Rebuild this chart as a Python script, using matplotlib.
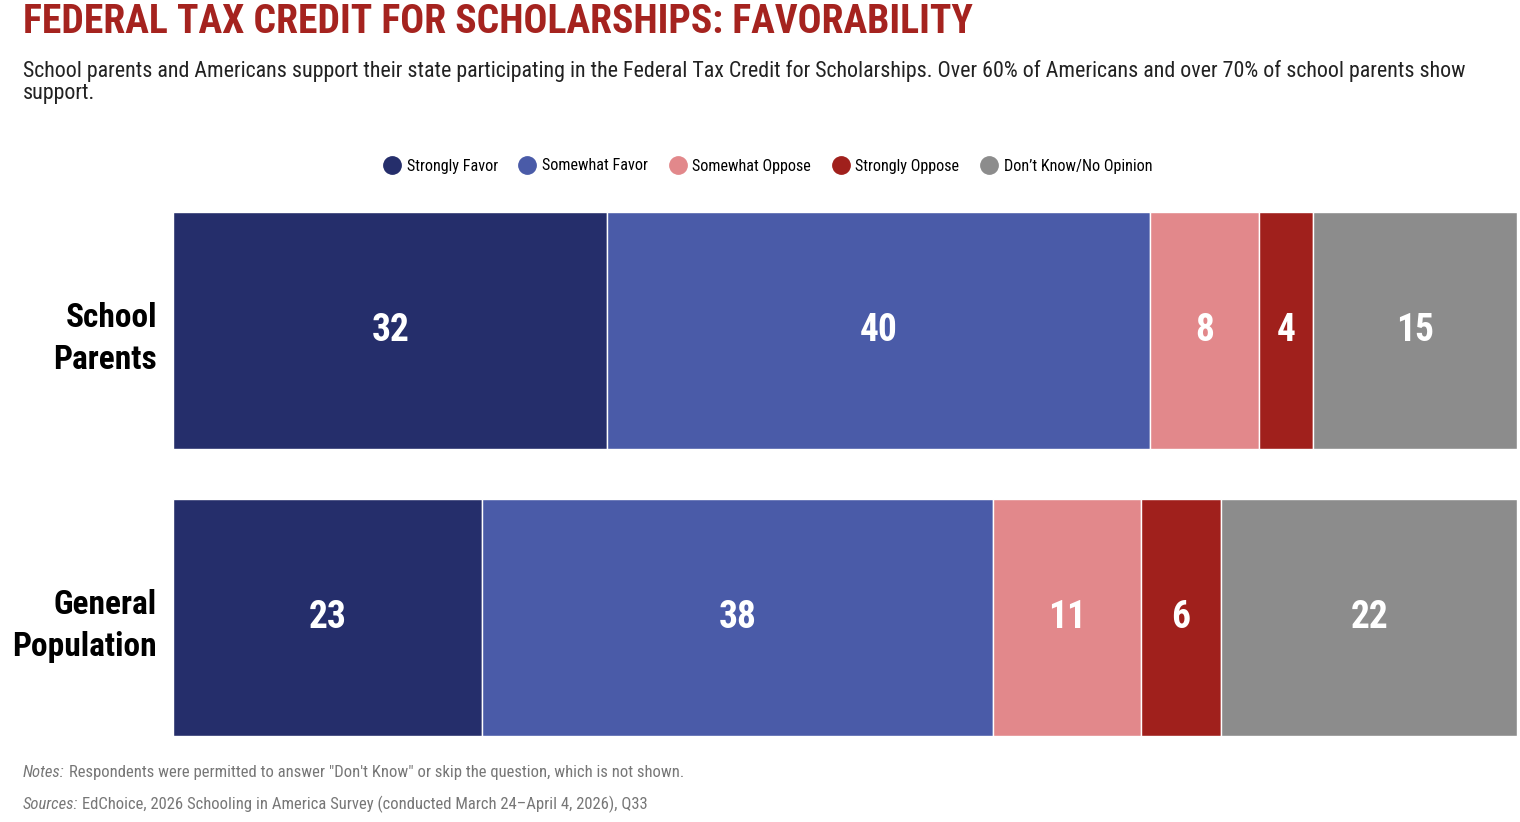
import numpy as np
import matplotlib
matplotlib.use("Agg")
import matplotlib.pyplot as plt
from matplotlib.lines import Line2D

plt.rcParams["font.family"] = ["Roboto Condensed", "IBM Plex Sans Condensed", "DejaVu Sans"]

groups = ["School\nParents", "General\nPopulation"]
categories = ["Strongly Favor", "Somewhat Favor", "Somewhat Oppose",
              "Strongly Oppose", "Don\u2019t Know/No Opinion"]
parents = [32, 40, 8, 4, 15]
general = [23, 38, 11, 6, 22]
colors = ["#252e6b", "#4a5ba8", "#e2888b", "#a0201c", "#8c8c8c"]

data = np.array([parents, general], dtype=float)
shares = data / data.sum(axis=1, keepdims=True) * 100

fig = plt.figure(figsize=(15.2, 8.22), dpi=100)
ax = fig.add_axes([173 / 1520, 1 - 736 / 822, (1517 - 173) / 1520, (736 - 212) / 822])

y = np.arange(len(groups))
left = np.zeros(len(groups))
for i, cat in enumerate(categories):
    ax.barh(y, shares[:, i], left=left, height=0.824, color=colors[i],
            edgecolor="white", linewidth=1)
    for j in range(len(groups)):
        ax.text(left[j] + shares[j, i] / 2, y[j], f"{int(data[j, i])}",
                ha="center", va="center", color="white", fontsize=27,
                fontweight="bold")
    left += shares[:, i]

ax.set_xlim(0, 100)
ax.set_ylim(len(groups) - 0.5 - 0.088, -0.5 + 0.088)
ax.set_yticks(y)
ax.set_yticklabels(groups, fontsize=24, fontweight="bold", linespacing=1.4,
                   ha="right")
ax.tick_params(axis="y", length=0, pad=11.5)
ax.set_xticks([])
for s in ax.spines.values():
    s.set_visible(False)

fig.text(23 / 1520, 1 - 22 / 822, "FEDERAL TAX CREDIT FOR SCHOLARSHIPS: FAVORABILITY",
         color="#a5231f", fontsize=28.5, fontweight="bold", va="center")
fig.text(23 / 1520, 1 - 82 / 822,
         "School parents and Americans support their state participating in the Federal Tax Credit for Scholarships. "
         "Over 60% of Americans and over 70% of school parents show\nsupport.",
         color="#222222", fontsize=15.85, va="center", linespacing=1.08)

handles = [Line2D([0], [0], marker="o", linestyle="", markersize=12.5,
                  markerfacecolor=c, markeredgecolor=c) for c in colors]
fig.legend(handles, categories, loc="center", bbox_to_anchor=(768 / 1520, 1 - 166 / 822),
           ncol=5, frameon=False, fontsize=11.6, handletextpad=0.4,
           columnspacing=1.35, handlelength=1.0)

grey = "#777777"
notes = fig.text(23 / 1520, 1 - 772 / 822, "Notes:", style="italic", color=grey,
                 fontsize=12, va="center")
sources = fig.text(23 / 1520, 1 - 804 / 822, "Sources:", style="italic", color=grey,
                   fontsize=12, va="center")
fig.canvas.draw()
r = fig.canvas.get_renderer()
for lab, txt in [(notes, "Respondents were permitted to answer \"Don't Know\" or skip the question, which is not shown."),
                 (sources, "EdChoice, 2026 Schooling in America Survey (conducted March 24\u2013April 4, 2026), Q33")]:
    w = lab.get_window_extent(r).width
    fig.text(23 / 1520 + (w + 4) / 1520, lab.get_position()[1], txt, color=grey,
             fontsize=12, va="center")

fig.savefig("out.png", dpi=100)
